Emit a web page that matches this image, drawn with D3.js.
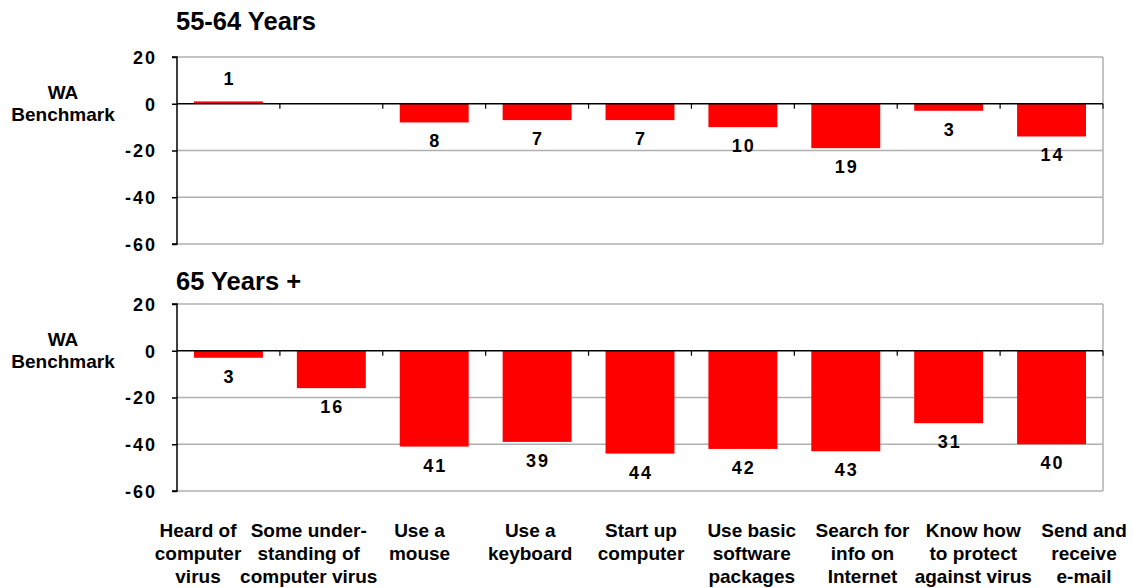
<!DOCTYPE html>
<html><head><meta charset="utf-8">
<script src="https://cdn.jsdelivr.net/npm/d3@7"></script>
<style>body{margin:0;background:#fff;} text{font-family:"Liberation Sans",Arial,sans-serif;font-weight:bold;fill:#000;}</style>
</head><body>
<svg id="c" width="1133" height="588"></svg>
<script>
const categories = [
  ["Heard of","computer","virus"],
  ["Some under-","standing of","computer virus"],
  ["Use a","mouse"],
  ["Use a","keyboard"],
  ["Start up","computer"],
  ["Use basic","software","packages"],
  ["Search for","info on","Internet"],
  ["Know how","to protect","against virus"],
  ["Send and","receive","e-mail"]
];
const values5564 = [1, null, -8, -7, -7, -10, -19, -3, -14];
const values65 = [-3, -16, -41, -39, -44, -42, -43, -31, -40];
const yTicks = [20, 0, -20, -40, -60];
const panelTitles = ["55-64 Years", "65 Years +"];
const axisTitle = ["WA", "Benchmark"];

const svg = d3.select("#c");
const left = 177, right = 1103;
const x = d3.scaleBand().domain(d3.range(categories.length)).range([left, right]).paddingInner(0.33).paddingOuter(0.165);
const xb = d3.scaleLinear().domain([0, categories.length]).range([left, right]);
const xl = d3.scalePoint().domain(d3.range(categories.length)).range([198, 1084]);

const panels = [
  {title: panelTitles[0], vals: values5564, top: 57, bottom: 244, titleY: 30},
  {title: panelTitles[1], vals: values65, top: 304, bottom: 491, titleY: 290}
];

panels.forEach(p => {
  const y = d3.scaleLinear().domain([-60, 20]).range([p.bottom, p.top]);
  const g = svg.append("g");
  g.append("text").attr("x", left - 1).attr("y", p.titleY).attr("font-size", 25.5).text(p.title);
  // gridlines
  g.selectAll("line.grid").data(yTicks.filter(t => t !== 0)).enter().append("line")
    .attr("x1", left).attr("x2", right).attr("y1", d => y(d)).attr("y2", d => y(d))
    .attr("stroke", "#b0b0b0").attr("stroke-width", 1.5);
  g.append("line").attr("x1", right).attr("x2", right).attr("y1", p.top).attr("y2", p.bottom)
    .attr("stroke", "#b0b0b0").attr("stroke-width", 1.5);
  // bars
  g.selectAll("rect").data(p.vals.map((v, i) => ({v, i})).filter(d => d.v !== null)).enter().append("rect")
    .attr("x", d => x(d.i)).attr("width", x.bandwidth())
    .attr("y", d => y(Math.max(0, d.v))).attr("height", d => Math.abs(y(d.v) - y(0)))
    .attr("fill", "#ff0000");
  // value labels
  g.selectAll("text.val").data(p.vals.map((v, i) => ({v, i})).filter(d => d.v !== null)).enter().append("text")
    .attr("x", d => x(d.i) + x.bandwidth() / 2 + 1)
    .attr("y", d => d.v >= 0 ? y(d.v) - 16 : y(d.v) + 25)
    .attr("text-anchor", "middle").attr("font-size", 18).attr("letter-spacing", 2)
    .text(d => Math.abs(d.v));
  // zero line
  g.append("line").attr("x1", left).attr("x2", right).attr("y1", y(0)).attr("y2", y(0))
    .attr("stroke", "#000").attr("stroke-width", 1.5);
  g.selectAll("line.ct").data(d3.range(1, categories.length + 1)).enter().append("line")
    .attr("x1", d => xb(d)).attr("x2", d => xb(d)).attr("y1", y(0)).attr("y2", y(0) + 5)
    .attr("stroke", "#000").attr("stroke-width", 1.2);
  // y axis
  const ax = g.append("g").attr("transform", `translate(${left},0)`)
    .call(d3.axisLeft(y).tickValues(yTicks).tickSize(5).tickFormat(d => String(d)));
  ax.select(".domain").attr("stroke", "#000").attr("stroke-width", 1.5).attr("d", `M-5,${p.top}H0V${p.bottom}H-5`);
  ax.selectAll(".tick line").attr("stroke", "#000").attr("stroke-width", 1.5);
  ax.selectAll(".tick text").attr("font-size", 18).attr("font-family", "Liberation Sans, Arial, sans-serif")
    .attr("font-weight", "bold").attr("fill", "#000").attr("letter-spacing", 2).attr("x", -20).attr("dy", "0.35em");
  const y0 = y(0);
  g.append("text").attr("x", 63).attr("y", y0 - 5).attr("text-anchor", "middle").attr("font-size", 19).text(axisTitle[0]);
  g.append("text").attr("x", 63).attr("y", y0 + 17).attr("text-anchor", "middle").attr("font-size", 19).text(axisTitle[1]);
});

// category labels
const cg = svg.append("g");
categories.forEach((lines, i) => {
  const t = cg.append("text").attr("text-anchor", "middle").attr("font-size", 19);
  lines.forEach((l, j) => {
    t.append("tspan").attr("x", xl(i)).attr("y", 537 + j * 23).text(l);
  });
});
</script>
</body></html>
